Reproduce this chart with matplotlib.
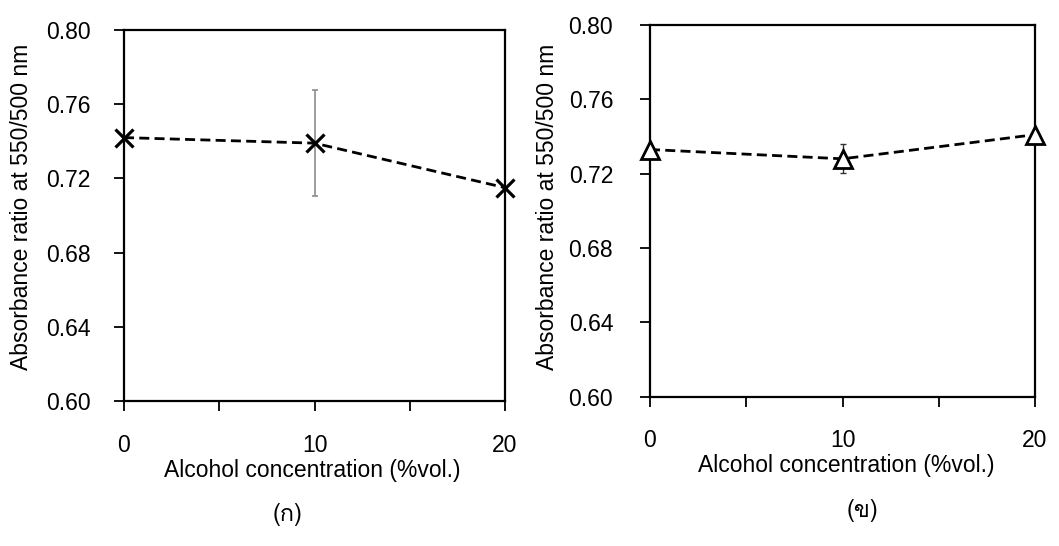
import matplotlib
matplotlib.use("Agg")
import matplotlib.pyplot as plt
from matplotlib import font_manager
from matplotlib.ft2font import FT2Font
from matplotlib.ticker import MultipleLocator

# Data
conc = [0, 10, 20]
ratio_a = [0.742, 0.739, 0.715]
err_a = [0.0, 0.0285, 0.0]
ratio_b = [0.733, 0.728, 0.741]
err_b = [0.0, 0.0078, 0.002]
xticks = [0, 10, 20]
yticks = [0.60, 0.64, 0.68, 0.72, 0.76, 0.80]
panel_labels = ["(ก)", "(ข)"]
xlabel = "Alcohol concentration (%vol.)"
ylabel = "Absorbance ratio at 550/500 nm"


def thai_family():
    """Return a family name that covers Thai script, if one is installed."""
    for f in font_manager.fontManager.ttflist:
        try:
            if 0x0E01 in FT2Font(f.fname).get_charmap():
                return f.name
        except Exception:
            continue
    return None


base = "Liberation Sans"
plt.rcParams["font.family"] = [base, "DejaVu Sans"]
thai = thai_family()
label_family = [thai, base] if thai else [base, "DejaVu Sans"]

FS = 16.5
W, H = 1059, 546

fig = plt.figure(figsize=(W / 100, H / 100), dpi=100)
ax_a = fig.add_axes([124 / W, 1 - 401 / H, 381 / W, 371 / H])
ax_b = fig.add_axes([650 / W, 1 - 396.7 / H, 385 / W, 371.7 / H])

dash = (0, (3.6, 1.9))

# Panel (a): cross markers, grey error bar
ax_a.errorbar(conc, ratio_a, yerr=err_a, fmt="none", ecolor="#8c8c8c",
              elinewidth=1.2, capsize=2.5, capthick=1.2, zorder=2)
ax_a.plot(conc, ratio_a, color="black", lw=2.0, linestyle=dash,
          marker="x", markersize=12.5, markeredgewidth=2.3, clip_on=False,
          zorder=3)

# Panel (b): open triangles, black error bars
ax_b.errorbar(conc, ratio_b, yerr=err_b, fmt="none", ecolor="#333333",
              elinewidth=1.0, capsize=2.5, capthick=1.0, zorder=2)
ax_b.plot(conc, ratio_b, color="black", lw=2.0, linestyle=dash,
          marker="^", markersize=12.5, markeredgewidth=2.0,
          markerfacecolor="white", markeredgecolor="black", clip_on=False,
          zorder=3)

settings = (
    (ax_a, 16.5, (0.4934, -0.186), (-0.268, 0.524)),
    (ax_b, 19.0, (0.511, -0.184), (-0.265, 0.511)),
)
for ax, pad_y, xl_pos, yl_pos in settings:
    ax.set_xlim(0, 20)
    ax.set_ylim(0.60, 0.80)
    ax.set_xticks(xticks)
    ax.xaxis.set_minor_locator(MultipleLocator(5))
    ax.set_yticks(yticks)
    ax.set_yticklabels([f"{v:.2f}" for v in yticks])
    ax.tick_params(axis="both", which="both", direction="out", length=7.5,
                   width=1.3, color="black", labelsize=FS)
    ax.tick_params(axis="x", which="major", pad=16)
    ax.tick_params(axis="y", which="major", pad=pad_y)
    for sp in ax.spines.values():
        sp.set_linewidth(1.6)
        sp.set_color("black")
    ax.set_xlabel(xlabel, fontsize=FS, va="center")
    ax.xaxis.set_label_coords(*xl_pos)
    ax.set_ylabel(ylabel, fontsize=FS, va="center")
    ax.yaxis.set_label_coords(*yl_pos)

fig.text(287.5 / W, 1 - 515 / H, panel_labels[0], ha="center",
         va="center", fontsize=17, family=label_family)
fig.text(863 / W, 1 - 510 / H, panel_labels[1], ha="center",
         va="center", fontsize=17, family=label_family)

fig.savefig("out.png", dpi=100, facecolor="white")
